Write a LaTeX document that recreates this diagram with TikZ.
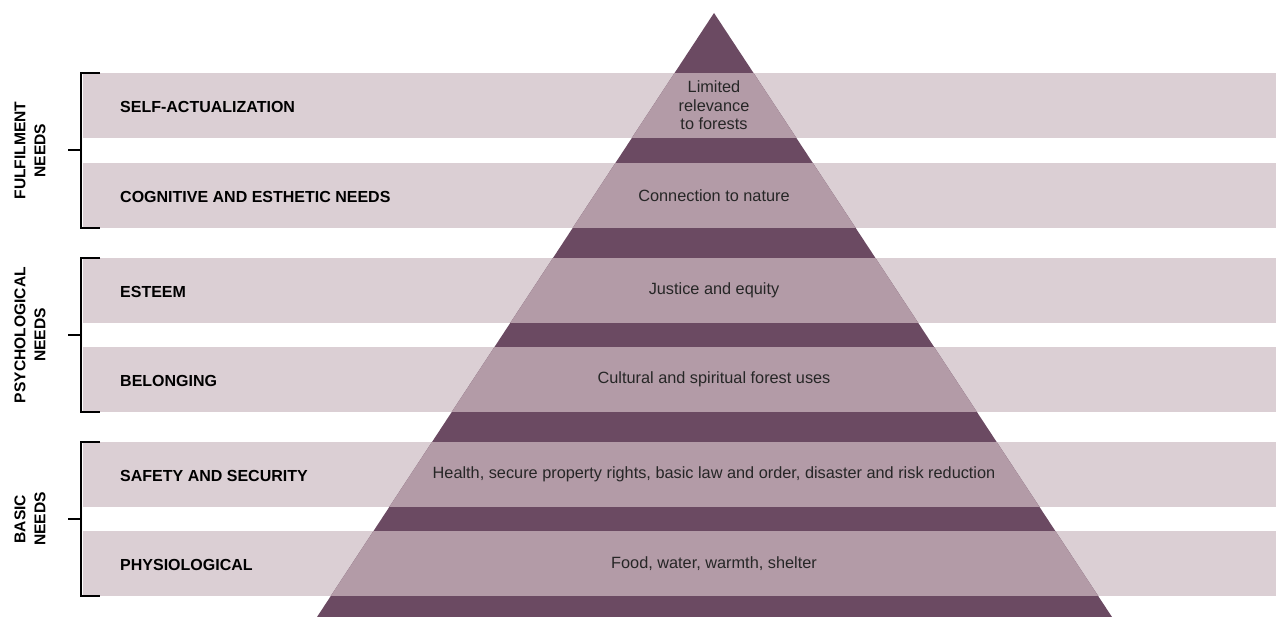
\documentclass[tikz,border=0pt]{standalone}
\usepackage{fontspec}
\setmainfont{Liberation Sans}
\definecolor{pyrdark}{HTML}{6B4A62}
\definecolor{pyrmid}{HTML}{B39BA7}
\definecolor{bandlight}{HTML}{DBCFD4}
\tikzset{
    needlabel/.style={anchor=west, inner sep=0pt, font=\fontsize{16}{18}\selectfont\bfseries},
    pyrtext/.style={align=center, inner sep=0pt, text=black!85, font=\fontsize{16.3}{18.5}\selectfont},
    grouplabel/.style={rotate=90, align=center, inner sep=0pt, font=\fontsize{15.6}{20}\selectfont\bfseries},
    bracket/.style={line width=2pt}
}
\begin{document}
\begin{tikzpicture}[x=1pt,y=-1pt]
        \useasboundingbox (0,0) rectangle (1276,617);

        % light bands behind the pyramid
        \foreach \t in {73,163,258,347,442,531}
            \fill[bandlight] (83,\t) rectangle (1276,\t+65);

        % pyramid
        \fill[pyrdark] (714,13) -- (1112,617) -- (317,617) -- cycle;
        \begin{scope}
            \clip (714,13) -- (1112,617) -- (317,617) -- cycle;
            \foreach \t in {73,163,258,347,442,531}
                \fill[pyrmid] (300,\t) rectangle (1130,\t+65);
        \end{scope}

        % needs
        \node[needlabel] (selfact) at (120,107) {SELF-ACTUALIZATION};
        \node[needlabel] (cognitive) at (120,196.5) {COGNITIVE AND ESTHETIC NEEDS};
        \node[needlabel] (esteem) at (120,291.5) {ESTEEM};
        \node[needlabel] (belonging) at (120,380.5) {BELONGING};
        \node[needlabel] (safety) at (120,475.5) {SAFETY AND SECURITY};
        \node[needlabel] (physio) at (120,564.5) {PHYSIOLOGICAL};

        % forest relevance
        \node[pyrtext] (limited) at (714,105.5) {Limited\\relevance\\to forests};
        \node[pyrtext] (nature) at (714,195.5) {Connection to nature};
        \node[pyrtext] (justice) at (714,290.5) {Justice and equity};
        \node[pyrtext] (cultural) at (714,379.5) {Cultural and spiritual forest uses};
        \node[pyrtext] (health) at (714,474.5) {Health, secure property rights, basic law and order, disaster and risk reduction};
        \node[pyrtext] (food) at (714,563.5) {Food, water, warmth, shelter};

        % brackets
        \draw[bracket] (100,73) -- (81,73) -- (81,228) -- (100,228);
        \draw[bracket] (81,150.5) -- (68,150.5);
        \node[grouplabel] (fulfil) at (30,150.5) {FULFILMENT\\NEEDS};

        \draw[bracket] (100,258) -- (81,258) -- (81,412) -- (100,412);
        \draw[bracket] (81,335) -- (68,335);
        \node[grouplabel] (psycho) at (30,335) {PSYCHOLOGICAL\\NEEDS};

        \draw[bracket] (100,442) -- (81,442) -- (81,596) -- (100,596);
        \draw[bracket] (81,519) -- (68,519);
        \node[grouplabel] (basic) at (30,519) {BASIC\\NEEDS};

    \end{tikzpicture}
\end{document}
